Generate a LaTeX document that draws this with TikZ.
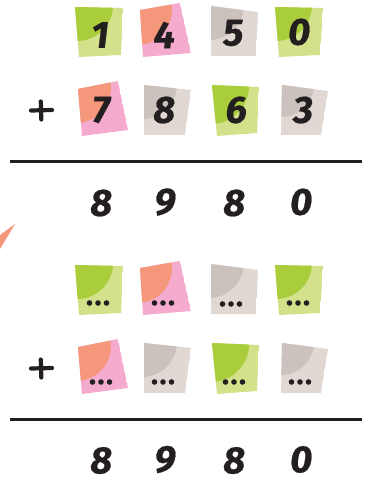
\documentclass[tikz,border=0pt]{standalone}
\usepackage{fontspec}
\newfontfamily\digfont{Fira Sans}[FakeSlant=0.12,FakeBold=0.6]
\definecolor{ink}{HTML}{231F20}
\definecolor{lgreen}{HTML}{D3E18B}
\definecolor{dgreen}{HTML}{A9CD3B}
\definecolor{lpink}{HTML}{F4ABCE}
\definecolor{dpink}{HTML}{F4977A}
\definecolor{lgrey}{HTML}{E1D8D3}
\definecolor{dgrey}{HTML}{CBC2BD}
\tikzset{
  digit/.style={inner sep=0pt, text=ink, font=\digfont\bfseries\fontsize{38}{38}\selectfont},
  sumline/.style={draw=ink, line width=3.5pt},
  plussign/.style={draw=ink, line width=4.2pt, line cap=round},
  dot/.style={fill=ink}
}
% #1 light colour, #2 dark colour, #3-#6 corners, #7 circle centre, #8 radius
\newcommand\stickycard[8]{%
  \begin{scope}
    \clip #3 -- #4 -- #5 -- #6 -- cycle;
    \fill[#1] #3 -- #4 -- #5 -- #6 -- cycle;
    \fill[#2] #7 circle (#8);
  \end{scope}}
\newcommand\threedots[1]{%
  \begin{scope}[shift={#1}]
    \fill[dot] (-8.5,0) circle (2.8);
    \fill[dot] (0,0) circle (2.8);
    \fill[dot] (8.5,0) circle (2.8);
  \end{scope}}
\newcommand\cardrows{%
  \stickycard{lgreen}{dgreen}{(75,7)}{(123,8)}{(121,55)}{(79,57)}{(77,5)}{36}
  \stickycard{lpink}{dpink}{(140,10)}{(180,3)}{(191,53)}{(143,57)}{(137,10)}{35}
  \stickycard{lgrey}{dgrey}{(211,6)}{(258,12)}{(256,56)}{(211,56)}{(209,5)}{35}
  \stickycard{lgreen}{dgreen}{(275,7)}{(323,8)}{(320,55)}{(279,57)}{(276,5)}{36}
  \stickycard{lpink}{dpink}{(78,89)}{(118,81)}{(128,130)}{(82,136)}{(76,88)}{35}
  \stickycard{lgrey}{dgrey}{(144,85)}{(191,90)}{(185,135)}{(144,135)}{(142,84)}{35}
  \stickycard{lgreen}{dgreen}{(212,85)}{(259,87)}{(257,133)}{(217,136)}{(211,86)}{38}
  \stickycard{lgrey}{dgrey}{(282,85)}{(328,91)}{(321,135)}{(281,135)}{(281,84)}{33}
}
\begin{document}
\begin{tikzpicture}[x=1pt,y=-1pt]
\useasboundingbox (0,0) rectangle (377,481);
\fill[white] (0,0) rectangle (377,481);
% ---------- first sum ----------
\cardrows
\node[digit] (a1) at (99,35) {1};
\node[digit] (a2) at (163,35) {4};
\node[digit] (a3) at (232,33) {5};
\node[digit] (a4) at (298,32) {0};
\node[digit] (b1) at (100,110) {7};
\node[digit] (b2) at (163,110) {8};
\node[digit] (b3) at (235,110) {6};
\node[digit] (b4) at (302,110) {3};
\draw[plussign] (31,110.5) -- (52,110);
\draw[plussign] (40.8,101.5) -- (41.3,119.5);
\coordinate (l1a) at (10,161.5);
\coordinate (l1b) at (362,161.5);
\draw[sumline] (l1a) -- (l1b);
\node[digit] (r1) at (100,203) {8};
\node[digit] (r2) at (164,202) {9};
\node[digit] (r3) at (233,203) {8};
\node[digit] (r4) at (300,202) {0};
% orange corner triangle
\fill[dpink] (15,224) -- (0,235) -- (0,249) -- cycle;
% ---------- second sum ----------
\begin{scope}[yshift=-258pt]
\cardrows
\end{scope}
\threedots{(98,303)}
\threedots{(163,303)}
\threedots{(231,304)}
\threedots{(298,303)}
\threedots{(101,382)}
\threedots{(163,382)}
\threedots{(234,382)}
\threedots{(300,382)}
\draw[plussign] (31,368.5) -- (52,368);
\draw[plussign] (40.8,359.5) -- (41.3,377.5);
\coordinate (l2a) at (10,419.5);
\coordinate (l2b) at (362,419.5);
\draw[sumline] (l2a) -- (l2b);
\node[digit] (s1) at (100,460.5) {8};
\node[digit] (s2) at (164,459.5) {9};
\node[digit] (s3) at (233,460.5) {8};
\node[digit] (s4) at (300,459.5) {0};
\end{tikzpicture}
\end{document}
